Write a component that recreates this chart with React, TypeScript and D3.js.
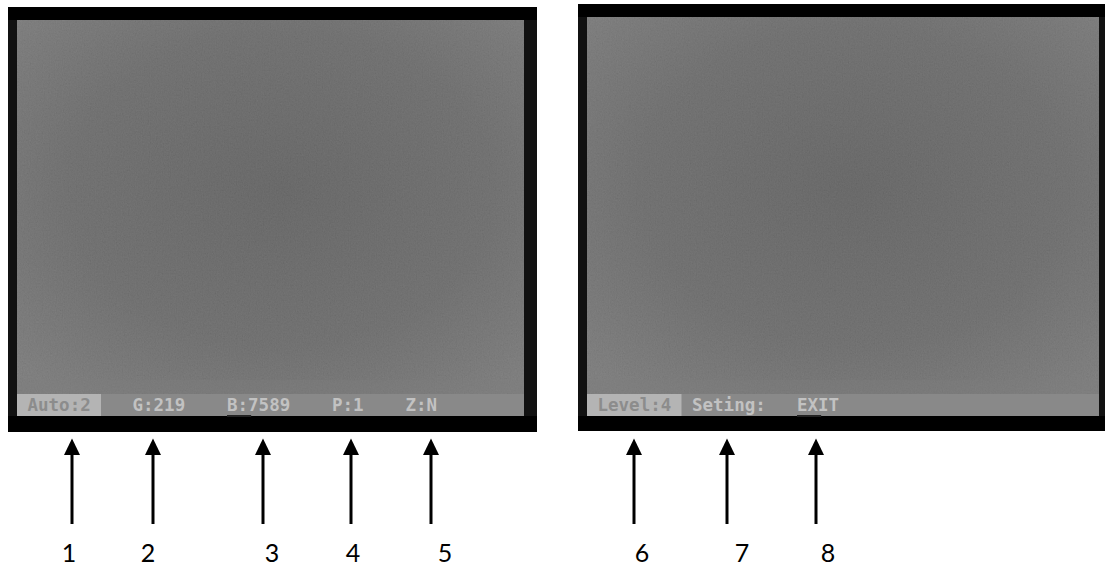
import React from "react";
import * as d3 from "d3";

// OSD status-bar items: text and character column where each item starts
const leftItems = ["Auto:2", "G:219", "B:7589", "P:1", "Z:N"];
const leftCols = [1, 11, 20, 30, 37];
const rightItems = ["Level:4", "Seting:", "EXIT"];
const rightCols = [1, 10, 20];
// highlighted (selected) item width in columns
const leftHighlightCols = 8;
const rightHighlightCols = 9;
// cursor marks (under item index)
const leftCursorItem = 2;
const rightCursorItem = 2;

// callout numbers, arrow x and label x (image px)
const calloutNums = ["1", "2", "3", "4", "5", "6", "7", "8"];
const arrowX = [72, 153, 263, 351, 431, 634, 727, 816];
const labelX = [69, 148, 272, 353, 445, 642, 742, 828];

const W = 1105;
const H = 566;
const CHAR = 10.5;

type ScreenProps = {
  x0: number; x1: number; y0: number; y1: number;
  gx0: number; gx1: number; gy0: number;
  items: string[]; cols: number[]; hl: number; cursor: number; id: string;
};

function Screen({ x0, x1, y0, y1, gx0, gx1, gy0, items, cols, hl, cursor, id }: ScreenProps) {
  const statusTop = 394;
  const statusBot = 416;
  const col = d3.scaleLinear().domain([0, 1]).range([gx0, gx0 + CHAR]);
  return (
    <g>
      <rect x={x0} y={y0} width={x1 - x0} height={y1 - y0} fill="#000" />
      <rect x={x0} y={gy0} width={gx0 - x0} height={statusBot - gy0} fill="#111" />
      <rect x={gx1} y={gy0} width={x1 - gx1} height={statusBot - gy0} fill="#111" />
      <rect x={gx0} y={gy0} width={gx1 - gx0} height={statusTop - gy0} fill={`url(#vig${id})`} />
      <rect x={gx0} y={gy0} width={gx1 - gx0} height={statusTop - gy0} fill="#808080" filter="url(#noise)" opacity={0.12} />
      <rect x={gx0} y={statusTop - 14} width={gx1 - gx0} height={14} fill="#7e7e7e" opacity={0.35} />
      <rect x={gx0} y={statusTop} width={gx1 - gx0} height={statusBot - statusTop} fill="#898989" />
      <rect x={gx0} y={statusTop} width={col(hl) - gx0} height={statusBot - statusTop} fill="#b4b4b4" />
      <rect x={col(cols[cursor])} y={statusBot - 1} width={CHAR * 2.3} height={2} fill="#222" />
      {items.map((t, i) => (
        <text key={t} x={col(cols[i])} y={411}
          fontFamily="'DejaVu Sans Mono', monospace" fontSize={17.5} fontWeight="bold"
          fill={i === 0 ? "#8c8c8c" : "#c2c2c2"}>{t}</text>
      ))}
    </g>
  );
}

export default function App() {
  const ay = d3.scaleLinear().domain([0, 1]).range([438.5, 524]);
  return (
    <svg width={W} height={H} style={{ position: "absolute", left: 0, top: 0, background: "#fff" }}>
      <defs>
        {["L", "R"].map((id) => (
          <radialGradient key={id} id={`vig${id}`} cx="52%" cy="45%" r="70%">
            <stop offset="0%" stopColor="#5f5f5f" />
            <stop offset="60%" stopColor="#686868" />
            <stop offset="100%" stopColor="#777777" />
          </radialGradient>
        ))}
        <filter id="noise" x="0" y="0" width="100%" height="100%">
          <feTurbulence type="fractalNoise" baseFrequency="0.85 0.6" numOctaves={2} seed={3} />
          <feColorMatrix type="matrix" values="0.33 0.33 0.33 0 0  0.33 0.33 0.33 0 0  0.33 0.33 0.33 0 0  0 0 0 0 1" />
        </filter>
      </defs>
      <Screen id="L" x0={8} x1={537} y0={7} y1={432} gx0={17} gx1={524} gy0={20}
        items={leftItems} cols={leftCols} hl={leftHighlightCols} cursor={leftCursorItem} />
      <Screen id="R" x0={578} x1={1105} y0={4} y1={431} gx0={587} gx1={1099} gy0={17}
        items={rightItems} cols={rightCols} hl={rightHighlightCols} cursor={rightCursorItem} />
      {calloutNums.map((n, i) => (
        <g key={n}>
          <line x1={arrowX[i]} x2={arrowX[i]} y1={ay(0) + 12} y2={ay(1)} stroke="#000" strokeWidth={3} />
          <path d={`M${arrowX[i]},${ay(0)} L${arrowX[i] + 8},${ay(0) + 16.5} L${arrowX[i] - 8},${ay(0) + 16.5} Z`} fill="#000" />
          <text x={labelX[i]} y={562} textAnchor="middle" fontFamily="Lato, 'Open Sans', sans-serif" fontSize={25} fill="#000">{n}</text>
        </g>
      ))}
    </svg>
  );
}
